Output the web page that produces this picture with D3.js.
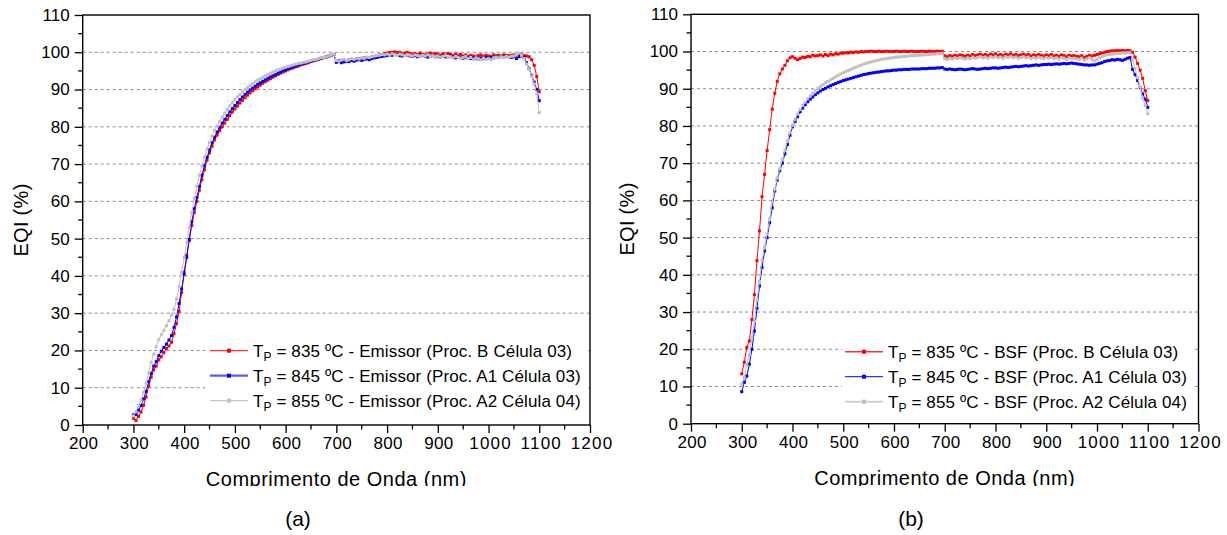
<!DOCTYPE html>
<html>
<head>
<meta charset="utf-8">
<script src="https://cdn.jsdelivr.net/npm/d3@7"></script>
<style>
body { margin: 0; background: #fff; }
text { font-family: "Liberation Sans", Arial, sans-serif; fill: #000; }
</style>
</head>
<body>
<svg id="fig" width="1227" height="535"></svg>
<script>
// wavelength grid (nm), one value every 5 nm
var wavelength = d3.range(300, 1101, 5);

// (a) Emissor
var aRed = [
  1.8, 1.2, 2.3, 3.5, 5.3, 7.5, 10.5, 12.8, 14.8, 15.8, 17.5, 18.3, 19.4, 20.5, 21.2, 22.2, 24.5, 27.2, 30.5, 35.5,
  41, 45.5, 49.5, 53.5, 57, 60, 63, 65.8, 68.5, 71, 73, 74.8, 76.5, 77.8, 79, 80, 81, 82, 83, 84,
  84.8, 85.6, 86.4, 87.1, 87.8, 88.5, 89.1, 89.7, 90.2, 90.7, 91.2, 91.7, 92.1, 92.5, 92.9, 93.3, 93.7, 94, 94.4, 94.7,
  95, 95.3, 95.6, 95.8, 96.1, 96.3, 96.6, 96.8, 97, 97.2, 97.5, 97.7, 97.9, 98.1, 98.3, 98.5, 98.7, 98.9, 99.1, 99.4,
  97.6, 97.8, 97.6, 97.9, 97.7, 98.0, 98.1, 97.9, 98.2, 98.3, 98.2, 98.5, 98.6, 98.4, 98.7, 98.9, 99.0, 99.3, 99.4, 99.6,
  99.8, 99.9, 100, 100.1, 99.9, 100, 99.6, 99.8, 100, 99.7, 99.5, 99.7, 99.4, 99.8, 99.5, 99.3, 99.6, 99.8, 99.4, 99.7,
  99.5, 99.2, 99.6, 99.3, 99.7, 99.4, 99.1, 99.5, 99.2, 99.4, 99, 99.3, 98.9, 99.2, 99, 98.8, 99.1, 99.3, 98.9, 99.2,
  99, 98.8, 99.3, 99.1, 99.2, 99, 99.3, 99.2, 99.1, 99.2, 99.3, 99.1, 99.2, 99, 99.1, 99, 98.8, 98.0, 96.5, 93.5,
  89.4
];
var aBlue = [
  2.7, 2.8, 4.0, 5.2, 7.0, 9.0, 11.6, 13.8, 15.8, 17.0, 18.6, 19.8, 20.8, 21.7, 22.8, 24.0, 26.2, 29.0, 32.6, 36.5,
  40.5, 45, 49.8, 54.5, 58, 61, 64, 67, 69.5, 71.8, 73.8, 75.7, 77.2, 78.6, 79.8, 81, 82, 83, 84, 84.9,
  85.7, 86.5, 87.3, 88, 88.7, 89.3, 89.9, 90.4, 90.9, 91.4, 91.8, 92.2, 92.6, 93, 93.4, 93.7, 94, 94.4, 94.7, 95,
  95.3, 95.6, 95.8, 96.1, 96.3, 96.6, 96.8, 97, 97.2, 97.4, 97.6, 97.8, 98, 98.2, 98.4, 98.6, 98.8, 99, 99.2, 99.4,
  97.3, 97.5, 97.2, 97.4, 97.6, 97.5, 97.8, 97.6, 97.9, 98.0, 97.8, 98.1, 98.2, 98.0, 98.3, 98.5, 98.6, 98.8, 98.9, 99.0,
  99.1, 99.3, 99.2, 99.4, 99.3, 99.1, 99.0, 99.2, 99.3, 99.0, 98.9, 99.1, 98.8, 99.0, 99.2, 98.9, 98.7, 98.9, 99.1, 98.8,
  98.9, 98.7, 99.0, 98.8, 98.6, 98.9, 98.7, 98.5, 98.8, 98.6, 98.4, 98.7, 98.5, 98.3, 98.6, 98.4, 98.2, 98.5, 98.3, 98.6,
  98.4, 98.7, 98.5, 98.8, 98.6, 98.9, 98.7, 98.9, 98.8, 98.6, 98.8, 98.3, 98.8, 99.3, 98.6, 97.2, 95.6, 93.8, 92.0, 90.0,
  87.0
];
var aGray = [
  2.4, 3.6, 5.3, 6.7, 8.8, 11.2, 14.0, 16.8, 19.0, 21.0, 22.9, 24.2, 25.4, 26.6, 28.0, 29.5, 31.0, 33.8, 37.2, 41.0,
  45, 49, 53, 57, 60.8, 64, 67, 69.5, 71.8, 74, 75.8, 77.5, 79, 80.2, 81.5, 82.6, 83.7, 84.7, 85.6, 86.5,
  87.3, 88, 88.7, 89.4, 90, 90.6, 91.1, 91.6, 92.1, 92.5, 92.9, 93.3, 93.7, 94, 94.4, 94.7, 95, 95.3, 95.5, 95.8,
  96, 96.2, 96.4, 96.6, 96.8, 97, 97.1, 97.3, 97.4, 97.6, 97.8, 98, 98.1, 98.3, 98.5, 98.6, 98.8, 99, 99.2, 99.5,
  97.8, 97.6, 97.9, 98.1, 97.8, 98.0, 98.3, 98.1, 98.4, 98.2, 98.5, 98.4, 98.7, 98.6, 98.8, 99.0, 99.1, 99.2, 99.4, 99.3,
  99.5, 99.3, 99.6, 99.4, 99.2, 99.5, 99.3, 99.1, 99.4, 99.2, 99.0, 99.3, 99.1, 98.9, 99.2, 99.0, 99.3, 98.9, 99.1, 98.8,
  99.0, 98.7, 98.9, 99.1, 98.6, 98.8, 98.5, 98.9, 98.7, 98.4, 98.6, 98.9, 98.3, 98.6, 98.1, 98.5, 98.2, 98.0, 98.4, 98.1,
  98.3, 98.0, 98.5, 98.7, 98.5, 98.8, 98.6, 98.9, 98.7, 98.9, 99.0, 99.3, 99.8, 99.2, 98.3, 96.8, 95.5, 93.6, 91.5, 89.0,
  83.8
];

// (b) BSF
var bRed = [
  13.4, 16.5, 20.5, 22.2, 28, 34.7, 43.8, 51.8, 61, 67, 73.4, 79, 84.5, 88.8, 92, 94, 95.3, 96.3, 97.5, 98.3,
  98.6, 98.2, 97.8, 98.1, 98.5, 98.4, 98.7, 98.6, 99, 98.8, 98.9, 99.1, 98.8, 99.2, 98.9, 99.3, 99.1, 99.4, 99.3, 99.6,
  99.5, 99.7, 99.6, 99.8, 99.7, 99.9, 99.8, 100, 99.9, 100, 100, 100.1, 100, 100, 100.1, 100, 100, 100.1, 100, 100,
  100, 100.1, 100, 100, 100.1, 100, 100, 100.1, 100, 100, 100, 100.1, 100, 100, 100.1, 100, 100, 100.1, 100, 100.1,
  98.8, 98.6, 98.9, 98.7, 99.0, 98.8, 99.1, 98.9, 98.7, 99.0, 98.8, 99.2, 98.9, 99.1, 99.3, 99.0, 99.2, 98.9, 99.3, 99.1,
  99.4, 99.0, 99.2, 98.9, 99.3, 99.1, 99.4, 99.0, 99.2, 98.9, 99.1, 99.3, 99.0, 99.2, 98.8, 99.1, 98.9, 99.2, 99.0, 98.8,
  99.1, 98.9, 99.2, 98.8, 99.0, 98.7, 99.1, 98.9, 98.6, 99.0, 98.8, 98.9, 98.7, 98.6, 98.9, 98.4, 98.7, 99.0, 98.8, 99.0,
  99.2, 99.4, 99.6, 99.8, 100, 100.1, 100.2, 100.2, 100.3, 100.2, 100.3, 100.2, 100.3, 100.2, 99.8, 98.5, 96.8, 95, 92.8, 89.5,
  86.8
];
var bBlue = [
  8.6, 11.1, 12.8, 16, 20, 24.9, 31, 37, 42, 46.4, 50, 54, 58, 62.5, 65.5, 68, 70, 72.5, 75, 77.5,
  79.8, 81.2, 82.5, 83.8, 84.8, 85.7, 86.5, 87.2, 87.8, 88.4, 88.9, 89.4, 89.8, 90.1, 90.5, 90.8, 91.1, 91.4, 91.7, 91.9,
  92.2, 92.4, 92.6, 92.8, 93, 93.2, 93.4, 93.6, 93.8, 93.9, 94.1, 94.2, 94.3, 94.4, 94.5, 94.6, 94.7, 94.8, 94.8, 94.9,
  95, 95, 95.1, 95.1, 95.2, 95.2, 95.2, 95.3, 95.3, 95.3, 95.3, 95.4, 95.4, 95.4, 95.5, 95.5, 95.5, 95.6, 95.6, 95.7,
  95.3, 95.2, 95.3, 95.2, 95.1, 95.2, 95.3, 95.2, 95.1, 95.2, 95.3, 95.4, 95.3, 95.2, 95.3, 95.4, 95.5, 95.4, 95.5, 95.6,
  95.6, 95.5, 95.6, 95.7, 95.8, 95.7, 95.8, 95.9, 96.0, 95.9, 96.0, 96.1, 96.2, 96.1, 96.2, 96.3, 96.4, 96.3, 96.4, 96.5,
  96.5, 96.6, 96.5, 96.6, 96.7, 96.6, 96.7, 96.8, 96.7, 96.8, 96.9, 96.8, 96.7, 96.6, 96.5, 96.4, 96.4, 96.3, 96.4, 96.4,
  96.6, 96.8, 97.0, 97.3, 97.5, 97.6, 97.8, 97.7, 97.9, 97.8, 97.6, 97.9, 98.2, 98.4, 95.2, 93.8, 92.2, 90.3, 88.6, 87.2,
  85.0
];
var bGray = [
  10.7, 12.4, 15.8, 18.5, 23.2, 27.6, 33.2, 38.2, 44, 47.5, 51, 55, 59.5, 63, 66, 68.5, 71, 73.5, 76, 78.2,
  80.2, 81.8, 83.2, 84.4, 85.5, 86.4, 87.3, 88.1, 88.8, 89.5, 90.1, 90.6, 91.1, 91.6, 92, 92.4, 92.8, 93.2, 93.6, 94,
  94.3, 94.6, 94.9, 95.2, 95.5, 95.8, 96.1, 96.3, 96.6, 96.8, 97, 97.2, 97.4, 97.6, 97.7, 97.9, 98, 98.1, 98.2, 98.3,
  98.4, 98.5, 98.5, 98.6, 98.7, 98.7, 98.8, 98.9, 98.9, 99, 99, 99.1, 99.1, 99.2, 99.2, 99.3, 99.3, 99.4, 99.4, 99.5,
  98.1, 97.9, 98.2, 98.0, 98.3, 98.1, 98.4, 98.2, 98.0, 98.3, 98.1, 98.5, 98.2, 98.4, 98.6, 98.3, 98.5, 98.2, 98.6, 98.4,
  98.7, 98.3, 98.5, 98.2, 98.6, 98.4, 98.7, 98.3, 98.5, 98.2, 98.4, 98.6, 98.3, 98.5, 98.1, 98.4, 98.2, 98.5, 98.3, 98.1,
  98.4, 98.2, 98.5, 98.1, 98.3, 98.0, 98.4, 98.2, 97.9, 98.3, 98.1, 98.2, 98.0, 97.9, 98.2, 97.7, 98.0, 98.3, 97.8, 97.5,
  97.9, 98.3, 98.6, 98.9, 99.1, 99.2, 99.3, 99.4, 99.5, 99.5, 99.6, 99.6, 99.7, 99.7, 97.8, 95.5, 93.0, 90.5, 87.5, 85.5,
  83.3
];

var seriesColors = ["#ff0000", "#0000ff", "#c0c0c0"];
var temps = ["835", "845", "855"];
var procs = ["(Proc. B Célula 03)", "(Proc. A1 Célula 03)", "(Proc. A2 Célula 04)"];
var yTicks = d3.range(0, 111, 10);
var xTicks = d3.range(200, 1201, 100);

var svg = d3.select("#fig");

// the axis title is cut at the bottom in the original figure
svg.append("clipPath").attr("id", "cut")
  .append("rect").attr("x", 0).attr("y", 0).attr("width", 1227).attr("height", 486);

var panels = [
  { left: 82.7, right: 590, top: 15, bottom: 425, data: [aRed, aBlue, aGray], layer: "Emissor",
    legX: 210, legY: 350.7, legBg: [205, 337, 383, 76], legWidths: [1, 2.2, 1.2], legColors: ["#ff0000", "#5a5aff", "#c8c8c8"],
    tag: "(a)", tagX: 298, yLabX: 28 },
  { left: 691, right: 1198.5, top: 14.3, bottom: 423.7, data: [bRed, bBlue, bGray], layer: "BSF",
    legX: 845, legY: 351.7, legBg: [842, 337, 350, 76], legWidths: [1.5, 1, 2], legColors: ["#ff3030", "#0000ff", "#d0d0d0"],
    tag: "(b)", tagX: 911, yLabX: 634 }
];

panels.forEach(function(p) {
  var x = d3.scaleLinear().domain([200, 1200]).range([p.left, p.right]);
  var y = d3.scaleLinear().domain([0, 110]).range([p.bottom, p.top]);
  var g = svg.append("g");

  // dashed grid
  g.selectAll(".grid").data(d3.range(10, 101, 10)).enter().append("line")
    .attr("x1", p.left).attr("x2", p.right)
    .attr("y1", function(d) { return y(d); }).attr("y2", function(d) { return y(d); })
    .attr("stroke", "#8c8c8c").attr("stroke-width", 1).attr("stroke-dasharray", "3,3");

  var line = d3.line()
    .x(function(d, i) { return x(wavelength[i]); })
    .y(function(d) { return y(d); });

  p.data.forEach(function(vals, k) {
    g.append("path").datum(vals)
      .attr("fill", "none").attr("stroke", seriesColors[k]).attr("stroke-width", 1)
      .attr("d", line);
    g.append("g").selectAll("rect").data(vals).enter().append("rect")
      .attr("x", function(d, i) { return x(wavelength[i]) - 1.5; })
      .attr("y", function(d) { return y(d) - 1.5; })
      .attr("width", 3).attr("height", 3)
      .attr("fill", seriesColors[k]);
  });

  // legend
  g.append("rect").attr("x", p.legBg[0]).attr("y", p.legBg[1])
    .attr("width", p.legBg[2]).attr("height", p.legBg[3]).attr("fill", "#fff");
  temps.forEach(function(t, k) {
    var ly = p.legY + k * 25;
    g.append("line").attr("x1", p.legX).attr("x2", p.legX + 38)
      .attr("y1", ly).attr("y2", ly)
      .attr("stroke", p.legColors[k]).attr("stroke-width", p.legWidths[k]);
    g.append("rect").attr("x", p.legX + 17).attr("y", ly - 2).attr("width", 4).attr("height", 4)
      .attr("fill", seriesColors[k]);
    var tx = g.append("text").attr("x", p.legX + 43).attr("y", ly + 6)
      .style("font-size", "17px").style("letter-spacing", "0.12px");
    tx.append("tspan").text("T");
    tx.append("tspan").attr("dy", 4).style("font-size", "12px").text("P");
    tx.append("tspan").attr("dy", -4).text(" = " + t + " ºC - " + p.layer + " " + procs[k]);
  });

  // frame
  g.append("rect").attr("x", p.left).attr("y", p.top)
    .attr("width", p.right - p.left).attr("height", p.bottom - p.top)
    .attr("fill", "none").attr("stroke", "#000").attr("stroke-width", 1.4);

  // x axis
  var xa = g.append("g").attr("transform", "translate(0," + p.bottom + ")")
    .call(d3.axisBottom(x).tickValues(xTicks).tickSize(8).tickPadding(4).tickFormat(d3.format("d")));
  xa.select(".domain").remove();
  xa.selectAll("line").attr("stroke-width", 1.3);
  xa.selectAll("text").style("font-size", "17px").style("font-family", "Liberation Sans, Arial, sans-serif")
    .style("letter-spacing", function(d) { return d >= 1000 ? "1.2px" : "0.3px"; })
    .attr("dx", function(d) { return d >= 1000 ? 1.5 : 0.5; });
  g.append("g").selectAll("line").data(d3.range(250, 1200, 100)).enter().append("line")
    .attr("x1", function(d) { return x(d); }).attr("x2", function(d) { return x(d); })
    .attr("y1", p.bottom).attr("y2", p.bottom + 4.5).attr("stroke", "#000").attr("stroke-width", 1.3);

  // y axis
  var ya = g.append("g").attr("transform", "translate(" + p.left + ",0)")
    .call(d3.axisLeft(y).tickValues(yTicks).tickSize(8).tickPadding(5));
  ya.select(".domain").remove();
  ya.selectAll("line").attr("stroke-width", 1.3);
  ya.selectAll("text").style("font-size", "17px").style("font-family", "Liberation Sans, Arial, sans-serif");
  g.append("g").selectAll("line").data(d3.range(5, 110, 10)).enter().append("line")
    .attr("x1", p.left - 4.5).attr("x2", p.left)
    .attr("y1", function(d) { return y(d); }).attr("y2", function(d) { return y(d); })
    .attr("stroke", "#000").attr("stroke-width", 1.3);

  // axis titles
  g.append("text").attr("x", (p.left + p.right) / 2).attr("y", p.bottom + 61)
    .attr("clip-path", "url(#cut)")
    .style("text-anchor", "middle").style("font-size", "20px").style("letter-spacing", "0.5px")
    .text("Comprimento de Onda (nm)");
  g.append("text").attr("transform", "translate(" + p.yLabX + "," + ((p.top + p.bottom) / 2) + ") rotate(-90)")
    .style("text-anchor", "middle").style("font-size", "20px").style("letter-spacing", "0.3px")
    .text("EQI (%)");

  g.append("text").attr("x", p.tagX).attr("y", 526)
    .style("text-anchor", "middle").style("font-size", "21px")
    .text(p.tag);
});
</script>
</body>
</html>
